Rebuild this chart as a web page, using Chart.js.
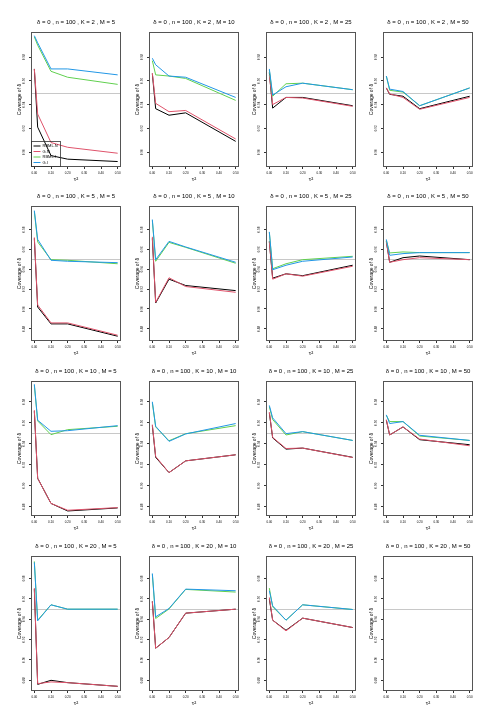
<!DOCTYPE html>
<html>
<head>
<meta charset="utf-8">
<script src="https://cdn.jsdelivr.net/npm/chart.js@4.4.1/dist/chart.umd.min.js"></script>
<style>
html,body{margin:0;padding:0;background:#fff;}
#wrap{position:relative;width:495px;height:726px;overflow:hidden;background:#fff;}
#wrap canvas{position:absolute;}
</style>
</head>
<body>
<div id="wrap"></div>
<script>
/* DADOS */
const tau2 = [0, 0.02, 0.1, 0.2, 0.5];
const Ks = [2, 5, 10, 20];
const Ms = [5, 10, 25, 50];
const methods = ["RBML.N", "G.N", "RBML.I", "G.I"];
const colors = ["#000000", "#DF536B", "#61D04F", "#2297E6"];
const xTicks = [0, 0.1, 0.2, 0.3, 0.4, 0.5];
const yTicks = [0.88, 0.90, 0.92, 0.94, 0.96, 0.98];
const nominal = 0.95;
const rowMin = [0.8874, 0.8678, 0.8710, 0.8695];
const rowMax = [1.0011, 1.0036, 0.9998, 1.0020];

// order: RBML.N, G.N, RBML.I, G.I
const k2m5 = [
  [0.970, 0.921, 0.897, 0.894, 0.892],
  [0.970, 0.932, 0.908, 0.904, 0.899],
  [0.997, 0.990, 0.968, 0.963, 0.957],
  [0.998, 0.992, 0.970, 0.970, 0.965]
];
const k2m10 = [
  [0.966, 0.9365, 0.931, 0.933, 0.909],
  [0.9665, 0.941, 0.934, 0.935, 0.911],
  [0.977, 0.965, 0.964, 0.962, 0.9435],
  [0.979, 0.9735, 0.964, 0.963, 0.946]
];
const k2m25 = [
  [0.967, 0.937, 0.946, 0.946, 0.939],
  [0.965, 0.940, 0.946, 0.9455, 0.9385],
  [0.969, 0.947, 0.9575, 0.958, 0.9525],
  [0.970, 0.948, 0.955, 0.958, 0.9525]
];
const k2m50 = [
  [0.954, 0.9486, 0.947, 0.9365, 0.947],
  [0.954, 0.949, 0.946, 0.936, 0.946],
  [0.964, 0.952, 0.9505, 0.939, 0.954],
  [0.964, 0.953, 0.951, 0.939, 0.954]
];
const k5m5 = [
  [0.971, 0.902, 0.885, 0.885, 0.8726],
  [0.972, 0.904, 0.886, 0.886, 0.8736],
  [0.998, 0.9675, 0.9496, 0.949, 0.9455],
  [0.999, 0.970, 0.949, 0.948, 0.9466]
];
const k5m10 = [
  [0.971, 0.906, 0.930, 0.9236, 0.9185],
  [0.9726, 0.9067, 0.9314, 0.9226, 0.9168],
  [0.989, 0.948, 0.967, 0.962, 0.946],
  [0.990, 0.9496, 0.968, 0.9624, 0.947]
];
const k5m25 = [
  [0.968, 0.931, 0.9354, 0.9335, 0.944],
  [0.9675, 0.930, 0.9354, 0.933, 0.943],
  [0.977, 0.9405, 0.9455, 0.9496, 0.953],
  [0.9776, 0.9395, 0.944, 0.948, 0.9523]
];
const k5m50 = [
  [0.968, 0.947, 0.9516, 0.9533, 0.9496],
  [0.9675, 0.947, 0.9496, 0.9516, 0.9496],
  [0.969, 0.9564, 0.9574, 0.9567, 0.9567],
  [0.970, 0.954, 0.9557, 0.9567, 0.9567]
];
const k10m5 = [
  [0.971, 0.907, 0.883, 0.8758, 0.8787],
  [0.972, 0.907, 0.883, 0.8765, 0.879],
  [0.9957, 0.9617, 0.9486, 0.9534, 0.9566],
  [0.9967, 0.9624, 0.9518, 0.9524, 0.9572]
];
const k10m10 = [
  [0.9573, 0.927, 0.9124, 0.9236, 0.9294],
  [0.9582, 0.9278, 0.9124, 0.9236, 0.9294],
  [0.979, 0.956, 0.9428, 0.9495, 0.9572],
  [0.980, 0.9566, 0.9422, 0.9493, 0.9592]
];
const k10m25 = [
  [0.9694, 0.9455, 0.9348, 0.9358, 0.927],
  [0.9701, 0.946, 0.9354, 0.9358, 0.9268],
  [0.9752, 0.963, 0.9483, 0.9515, 0.9431],
  [0.9765, 0.9646, 0.9496, 0.9515, 0.9431]
];
const k10m50 = [
  [0.9624, 0.9483, 0.956, 0.9438, 0.939],
  [0.963, 0.9483, 0.956, 0.9444, 0.938],
  [0.9669, 0.9611, 0.9611, 0.9473, 0.9431],
  [0.9675, 0.9592, 0.9611, 0.948, 0.9431]
];
const k20m5 = [
  [0.9695, 0.876, 0.880, 0.8777, 0.8741],
  [0.9705, 0.8767, 0.8784, 0.8777, 0.8741],
  [0.9967, 0.939, 0.9541, 0.9498, 0.9498],
  [0.9957, 0.9384, 0.9541, 0.9498, 0.9498]
];
const k20m10 = [
  [0.9574, 0.9115, 0.922, 0.9459, 0.9498],
  [0.9574, 0.9115, 0.922, 0.9459, 0.9498],
  [0.984, 0.9407, 0.950, 0.9692, 0.9666],
  [0.9849, 0.9423, 0.9505, 0.9695, 0.9679]
];
const k20m25 = [
  [0.9597, 0.939, 0.9291, 0.941, 0.9318],
  [0.9613, 0.939, 0.9285, 0.941, 0.9318],
  [0.9705, 0.9521, 0.939, 0.9541, 0.9495],
  [0.9679, 0.9531, 0.939, 0.9541, 0.9495]
];
const k20m50 = [[], [], [], []];

const painel = [
  [k2m5, k2m10, k2m25, k2m50],
  [k5m5, k5m10, k5m25, k5m50],
  [k10m5, k10m10, k10m25, k10m50],
  [k20m5, k20m10, k20m25, k20m50]
];

/* LAYOUT */
const FONTE = "'Liberation Sans', Arial, Helvetica, sans-serif";
const plotLeft = [31, 149, 266, 383];
const plotTop = [32, 206, 381, 556];
const PW = 90, PH = 135;
const wrap = document.getElementById("wrap");

/* PLUGINS */
const moldura = {
  id: "moldura",
  afterDatasetsDraw(chart){
    const a = chart.chartArea, ctx = chart.ctx;
    ctx.save();
    ctx.strokeStyle = "#555";
    ctx.lineWidth = 1;
    ctx.strokeRect(a.left + 0.5, a.top + 0.5, a.right - a.left - 1, a.bottom - a.top - 1);
    ctx.restore();
  }
};

const linhaRef = {
  id: "linhaRef",
  beforeDatasetsDraw(chart){
    const a = chart.chartArea, ctx = chart.ctx;
    const y = Math.round(chart.scales.y.getPixelForValue(nominal)) + 0.5;
    ctx.save();
    ctx.strokeStyle = "#c8c8c8";
    ctx.lineWidth = 1;
    ctx.beginPath();
    ctx.moveTo(a.left, y);
    ctx.lineTo(a.right, y);
    ctx.stroke();
    ctx.restore();
  }
};

const legenda = {
  id: "legenda",
  afterDraw(chart){
    const a = chart.chartArea, ctx = chart.ctx;
    const bx = a.left + 0.5, bw = 29, bh = 25, by = a.bottom - bh - 0.5;
    ctx.save();
    ctx.strokeStyle = "#333";
    ctx.lineWidth = 0.8;
    ctx.strokeRect(bx, by, bw, bh);
    ctx.font = "4px " + FONTE;
    ctx.textBaseline = "middle";
    methods.forEach((m, i)=>{
      const y = by + 4.5 + i * 5.5;
      ctx.strokeStyle = colors[i];
      ctx.lineWidth = 1;
      ctx.beginPath();
      ctx.moveTo(bx + 2, y);
      ctx.lineTo(bx + 9, y);
      ctx.stroke();
      ctx.fillStyle = "#000";
      ctx.fillText(m, bx + 11, y);
    });
    ctx.restore();
  }
};

/* GRAFICOS */
function criarPainel(r, c){
  const cv = document.createElement("canvas");
  cv.width = 170; cv.height = 183;
  cv.style.left = (plotLeft[c] - 40) + "px";
  cv.style.top = (plotTop[r] - 32) + "px";
  wrap.appendChild(cv);

  const vals = painel[r][c];
  const ymin = rowMin[r], ymax = rowMax[r];
  const plugins = [linhaRef, moldura];
  if(r === 0 && c === 0) plugins.push(legenda);

  new Chart(cv, {
    type: "line",
    data: {
      datasets: methods.map((m, i)=>({
        label: m,
        data: vals[i].map((v, j)=>({x: tau2[j], y: v})),
        borderColor: colors[i],
        borderWidth: 1,
        pointRadius: 0,
        tension: 0,
        order: 4 - i
      }))
    },
    options: {
      responsive: false,
      animation: false,
      devicePixelRatio: 1,
      layout: {padding: {left: 26, right: 40, top: 0, bottom: 0}},
      plugins: {
        legend: {display: false},
        tooltip: {enabled: false},
        title: {
          display: true,
          fullSize: false,
          text: `δ = 0 , n = 100 , K = ${Ks[r]} , M = ${Ms[c]}`,
          color: "#000",
          font: {size: 6, family: FONTE, weight: "normal", lineHeight: 1},
          padding: {top: 19, bottom: 7}
        }
      },
      scales: {
        x: {
          type: "linear",
          min: -0.02, max: 0.52,
          afterBuildTicks: s=>{ s.ticks = xTicks.map(v=>({value: v})); },
          afterFit: s=>{ s.height = 16; },
          ticks: {font: {size: 3, family: FONTE}, color: "#000", padding: 2, maxRotation: 0, autoSkip: false,
                  callback: v=>Number(v).toFixed(2)},
          grid: {drawOnChartArea: false, drawTicks: true, tickLength: 2, color: "#333"},
          border: {display: false},
          title: {display: true, text: "τ²", color: "#000", font: {size: 6, family: FONTE, lineHeight: 1}, padding: {top: 0, bottom: 1}}
        },
        y: {
          min: ymin, max: ymax,
          afterBuildTicks: s=>{ s.ticks = yTicks.filter(v=>v >= ymin && v <= ymax).map(v=>({value: v})); },
          afterFit: s=>{ s.width = 14; },
          ticks: {font: {size: 3, family: FONTE}, color: "#000", padding: 2, minRotation: 90, maxRotation: 90,
                  crossAlign: "center", autoSkip: false, callback: v=>Number(v).toFixed(2)},
          grid: {drawOnChartArea: false, drawTicks: true, tickLength: 2, color: "#333"},
          border: {display: false},
          title: {display: true, text: "Coverage of δ", color: "#000", font: {size: 5, family: FONTE, lineHeight: 1}, padding: 0}
        }
      }
    },
    plugins: plugins
  });
}

for(let r = 0; r < 4; r++){
  for(let c = 0; c < 4; c++) criarPainel(r, c);
}
</script>
</body>
</html>
